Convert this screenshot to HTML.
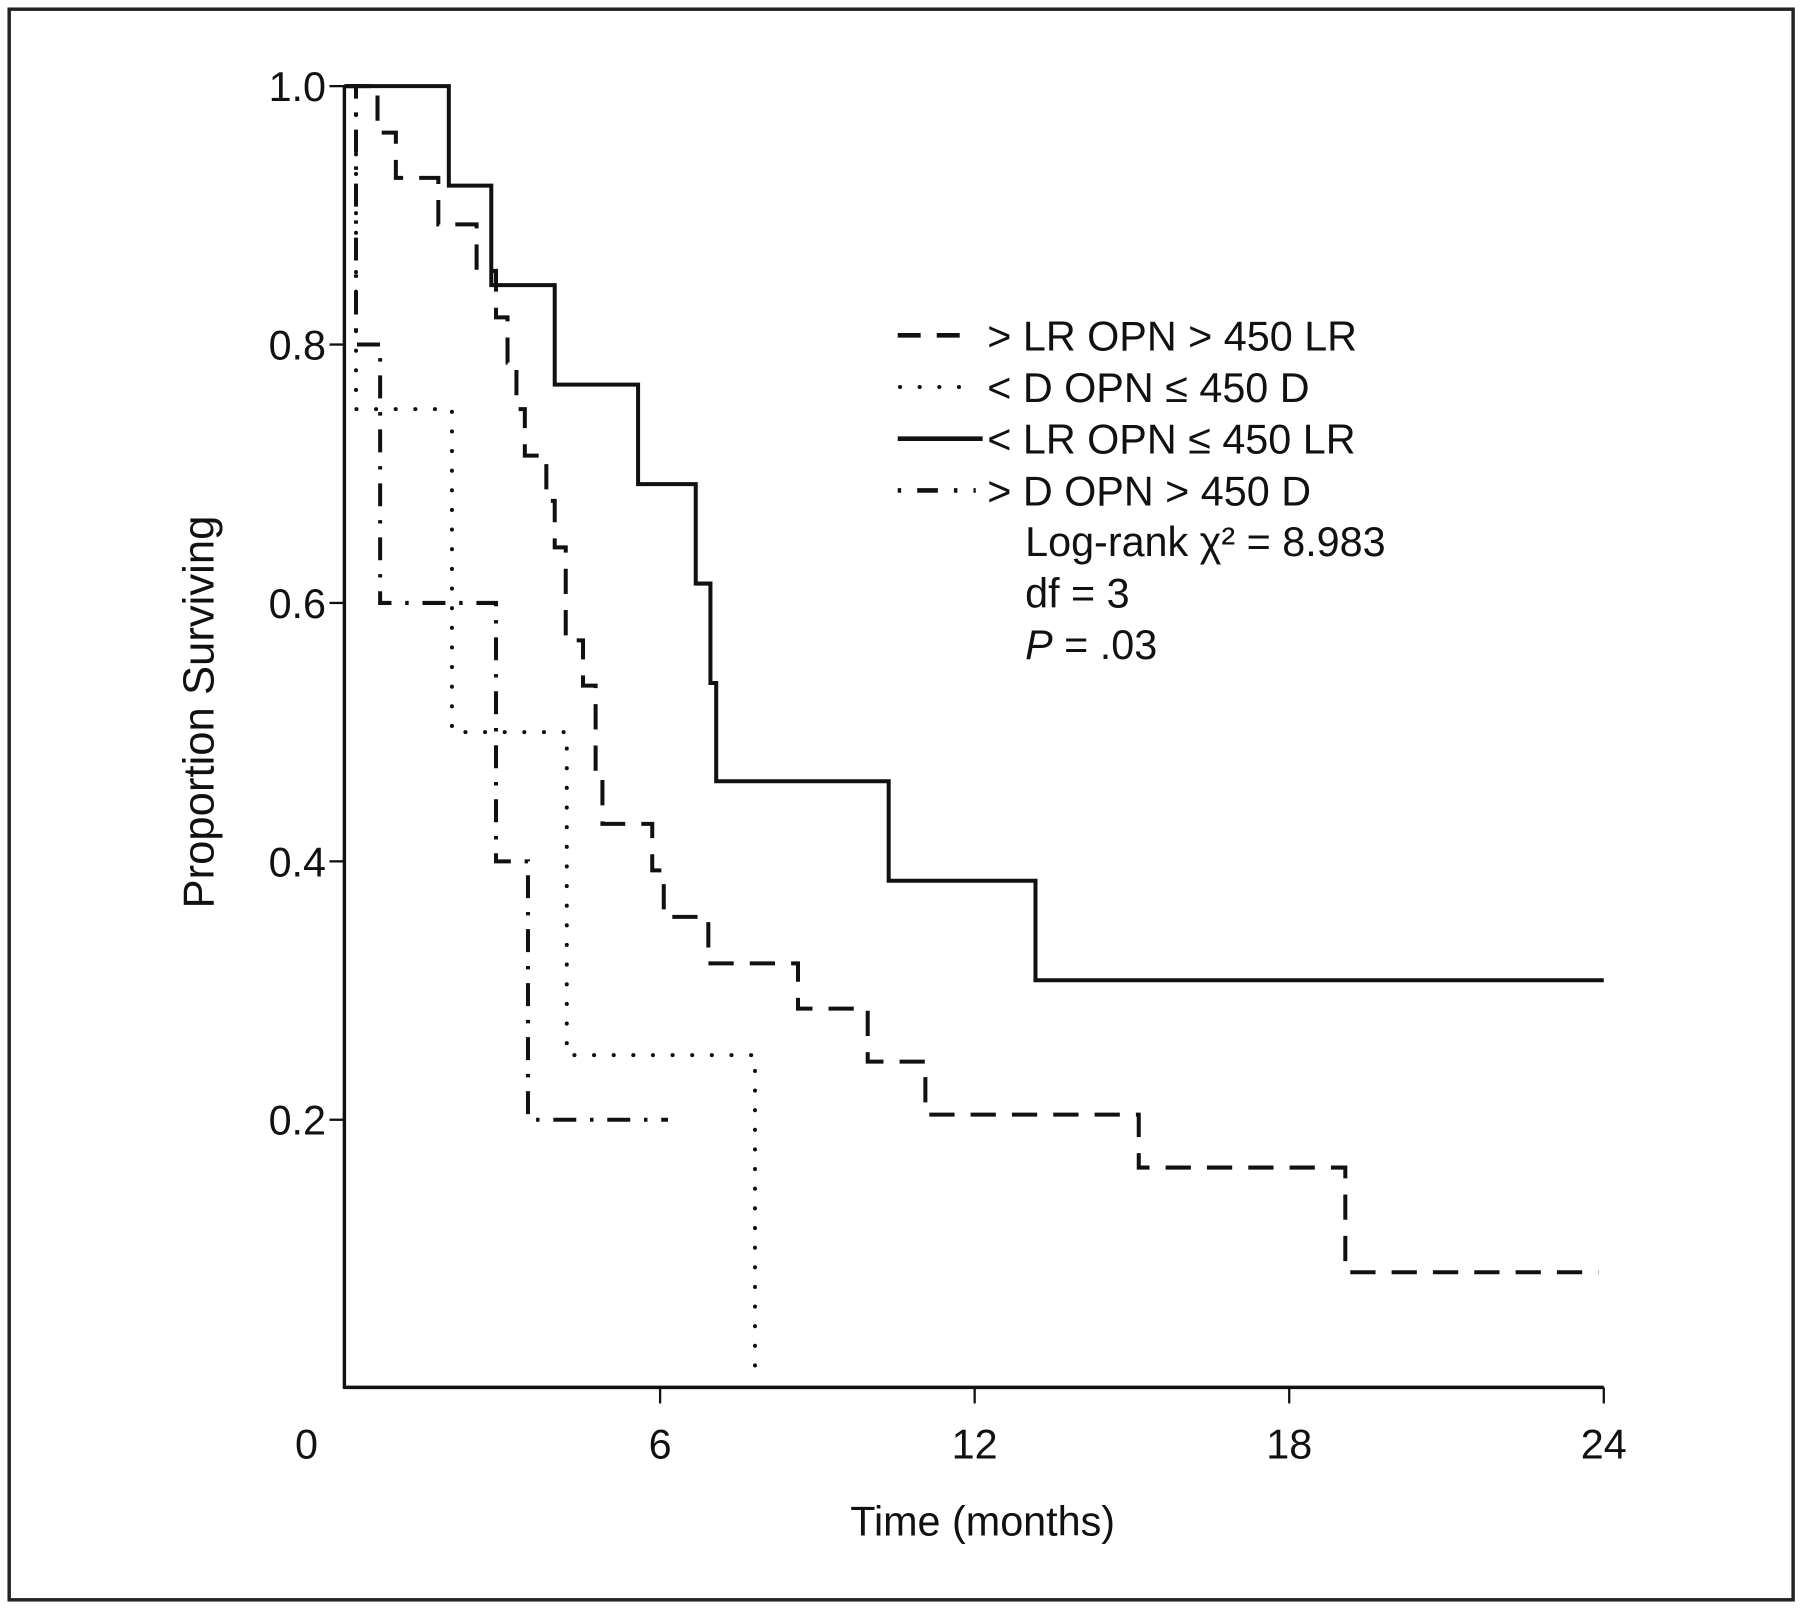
<!DOCTYPE html>
<html><head><meta charset="utf-8"><style>
html,body{margin:0;padding:0;background:#fff}
svg{display:block}
text{font-family:"Liberation Sans",Arial,sans-serif;fill:#111}
</style></head><body>
<svg id="chart" width="1800" height="1609" viewBox="0 0 1568 1401" preserveAspectRatio="none" xmlns="http://www.w3.org/2000/svg">
<rect x="8" y="8" width="1554" height="1385" fill="none" stroke="#222" stroke-width="3"/>
<g id="axes"></g>
<g id="series"></g>
<g>
  <line x1="782" y1="292" x2="850" y2="292" stroke="#111" stroke-width="4" stroke-dasharray="20,14"/>
  <text x="860" y="305" font-size="36">&gt; LR OPN &gt; 450 LR</text>
  <line x1="784" y1="337" x2="850" y2="337" stroke="#111" stroke-width="3.5" stroke-linecap="round" stroke-dasharray="0.1,17"/>
  <text x="860" y="350" font-size="36">&lt; D OPN ≤ 450 D</text>
  <line x1="782" y1="382" x2="856" y2="382" stroke="#111" stroke-width="4"/>
  <text x="860" y="395" font-size="36">&lt; LR OPN ≤ 450 LR</text>
  <line x1="782" y1="427" x2="850" y2="427" stroke="#111" stroke-width="4" stroke-dasharray="3,14,18,14"/>
  <text x="860" y="440" font-size="36">&gt; D OPN &gt; 450 D</text>
  <text x="893" y="484" font-size="36">Log-rank χ² = 8.983</text>
  <text x="893" y="529" font-size="36">df = 3</text>
  <text x="893" y="574" font-size="36"><tspan font-style="italic">P</tspan> = .03</text>
</g>
<text transform="translate(186,620) rotate(-90)" text-anchor="middle" font-size="38">Proportion Surviving</text>
<text x="856" y="1337" text-anchor="middle" font-size="36">Time (months)</text>
</svg>
<script>
const xTicks = [0, 6, 12, 18, 24];
const yTicks = [0.2, 0.4, 0.6, 0.8, 1.0];
const yTickLabels = ["0.2", "0.4", "0.6", "0.8", "1.0"];
// Series: >LR OPN >450 LR (dashed)
const highLrTimes = [0.61,0.96,1.77,2.50,2.87,3.09,3.26,3.42,3.83,3.99,4.20,4.53,4.77,4.90,5.85,6.07,6.92,8.63,9.96,11.06,15.13,19.07];
const highLrSurv  = [0.964,0.929,0.893,0.857,0.821,0.786,0.75,0.714,0.679,0.643,0.571,0.536,0.464,0.429,0.393,0.357,0.321,0.286,0.245,0.204,0.163,0.082];
const highLrEnd = 23.9;
// <D OPN <=450 D (dotted)
const lowDTimes = [0.2,2.03,4.22,7.81];
const lowDSurv  = [0.75,0.5,0.25,0];
const lowDEnd = 7.81;
// <LR OPN <=450 LR (solid)
const lowLrTimes = [1.97,2.78,3.99,5.58,6.68,6.96,7.07,10.36,13.16];
const lowLrSurv  = [0.923,0.846,0.769,0.692,0.615,0.538,0.462,0.385,0.308];
const lowLrEnd = 24;
// >D OPN >450 D (dash-dot)
const highDTimes = [0.2,0.66,2.87,3.48];
const highDSurv  = [0.8,0.6,0.4,0.2];
const highDEnd = 6.15;

const NS = "http://www.w3.org/2000/svg";
const X0 = 301, XS = 45.67, Y0 = 1200, YS = 1125;
function xs(t){ return X0 + t*XS; }
function ys(v){ return Y0 - v*YS; }
function mk(tag, attrs){ const e=document.createElementNS(NS,tag); for(const k in attrs) e.setAttribute(k,attrs[k]); return e; }

const axes = document.getElementById('axes');
const yAxis = mk('line',{x1:300,y1:ys(1.0),x2:300,y2:1209,stroke:'#111','stroke-width':3});


axes.appendChild(yAxis);
const xAxis = mk('line',{x1:299,y1:1208,x2:xs(24),y2:1208,stroke:'#111','stroke-width':3});


axes.appendChild(xAxis);
yTicks.forEach((v,i)=>{
  const tk = mk('line',{x1:287,y1:ys(v),x2:300,y2:ys(v),stroke:'#111','stroke-width':2});
  
  
  axes.appendChild(tk);
  const lb = mk('text',{x:284,y:ys(v)+13,'text-anchor':'end','font-size':36});
  lb.textContent = yTickLabels[i];
  
  
  axes.appendChild(lb);
});
xTicks.forEach((t,i)=>{
  if(t>0){
    const tk = mk('line',{x1:xs(t),y1:1208,x2:xs(t),y2:1222,stroke:'#111','stroke-width':2});
    
    
    axes.appendChild(tk);
  }
  const lx = t===0 ? 267 : xs(t);
  const lb = mk('text',{x:lx,y:1270,'text-anchor':'middle','font-size':36});
  lb.textContent = String(t);
  
  
  axes.appendChild(lb);
});

function stairs(times, surv, end){
  let d = 'M'+xs(0)+','+ys(1);
  for(let i=0;i<times.length;i++){ d += ' H'+xs(times[i])+' V'+ys(surv[i]); }
  d += ' H'+xs(end);
  return d;
}
const series = document.getElementById('series');
const s1 = mk('path',{d:stairs(highLrTimes,highLrSurv,highLrEnd),fill:'none',stroke:'#111','stroke-width':3.5,'stroke-dasharray':'22,14'});


series.appendChild(s1);
const s2 = mk('path',{d:stairs(lowDTimes,lowDSurv,lowDEnd),fill:'none',stroke:'#111','stroke-width':3.5,'stroke-linecap':'round','stroke-dasharray':'0.1,17'});


series.appendChild(s2);
const s3 = mk('path',{d:stairs(lowLrTimes,lowLrSurv,lowLrEnd),fill:'none',stroke:'#111','stroke-width':3.5});


series.appendChild(s3);
const s4 = mk('path',{d:stairs(highDTimes,highDSurv,highDEnd),fill:'none',stroke:'#111','stroke-width':3.5,'stroke-dasharray':'20,12,3,12'});


series.appendChild(s4);
</script>
</body></html>
